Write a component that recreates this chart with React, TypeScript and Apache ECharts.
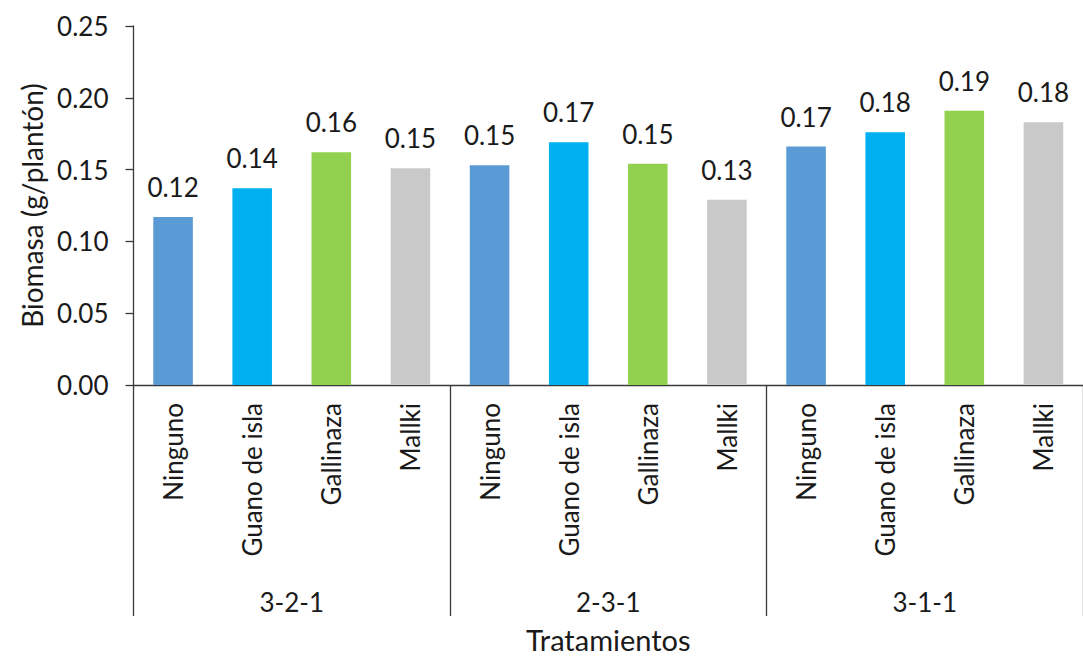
import React, { useEffect, useRef } from "react";
import * as echarts from "echarts";

// Fertiliser treatments within each dosing scheme
const fertilisers = ["Ninguno", "Guano de isla", "Gallinaza", "Mallki"];
const schemes = ["3-2-1", "2-3-1", "3-1-1"];

// Biomass (g per seedling) for each scheme, in fertiliser order
const biomass321 = [0.117, 0.137, 0.162, 0.151];
const biomass231 = [0.153, 0.169, 0.154, 0.129];
const biomass311 = [0.166, 0.176, 0.191, 0.183];

const fertiliserColors = ["#5B9BD5", "#00B0F0", "#92D050", "#C9C9C9"];

const yMin = 0;
const yMax = 0.25;
const yStep = 0.05;

const FONT = "Lato, 'Noto Sans', sans-serif";
const TEXT = "#1a1a1a";
const AXIS = "#3a3a3a";

export default function App() {
  const ref = useRef<HTMLDivElement>(null);

  useEffect(() => {
    if (!ref.current) return;
    const chart = echarts.init(ref.current, undefined, { renderer: "svg" });

    const byScheme = [biomass321, biomass231, biomass311];
    const categoryLabels: string[] = [];
    const barData: any[] = [];
    byScheme.forEach((vals) => {
      vals.forEach((v, i) => {
        categoryLabels.push(fertilisers[i]);
        barData.push({ value: v, itemStyle: { color: fertiliserColors[i] } });
      });
    });

    chart.setOption({
      animation: false,
      textStyle: { fontFamily: FONT },
      grid: { left: 133.5, right: -7, top: 26, bottom: 273, containLabel: false },
      xAxis: [
        {
          type: "category",
          position: "bottom",
          data: categoryLabels,
          axisLine: { show: true, lineStyle: { color: AXIS, width: 1.3 } },
          axisTick: { show: false },
          axisLabel: {
            interval: 0,
            rotate: 90,
            margin: 18,
            fontSize: 26,
            color: TEXT,
            fontFamily: FONT,
          },
        },
        {
          type: "category",
          position: "bottom",
          data: schemes,
          axisLine: { show: false },
          axisTick: {
            show: true,
            length: 231,
            lineStyle: { color: AXIS, width: 1.3 },
          },
          axisLabel: {
            interval: 0,
            margin: 204,
            fontSize: 26,
            color: TEXT,
            fontFamily: FONT,
          },
          name: "Tratamientos",
          nameLocation: "middle",
          nameGap: 240,
          nameTextStyle: { fontSize: 29, color: TEXT, fontFamily: FONT },
        },
      ],
      yAxis: {
        type: "value",
        min: yMin,
        max: yMax,
        interval: yStep,
        name: "Biomasa (g/plantón)",
        nameLocation: "middle",
        nameGap: 88,
        nameTextStyle: { fontSize: 28, color: TEXT, fontFamily: FONT },
        axisLine: { show: true, lineStyle: { color: AXIS, width: 1.3 } },
        axisTick: { show: true, length: 8, lineStyle: { color: AXIS, width: 1.3 } },
        splitLine: { show: false },
        axisLabel: {
          margin: 25,
          fontSize: 26,
          color: TEXT,
          fontFamily: FONT,
          formatter: (v: number) => v.toFixed(2),
        },
      },
      series: [
        {
          type: "bar",
          xAxisIndex: 0,
          barWidth: "50%",
          data: barData,
          label: {
            show: true,
            position: "top",
            distance: 17,
            fontSize: 26,
            color: TEXT,
            fontFamily: FONT,
            formatter: (p: any) => Number(p.value).toFixed(2),
          },
        },
      ],
    });

    return () => chart.dispose();
  }, []);

  return (
    <div
      ref={ref}
      style={{ position: "absolute", left: 0, top: 0, width: 1083, height: 659, background: "#fff" }}
    />
  );
}
